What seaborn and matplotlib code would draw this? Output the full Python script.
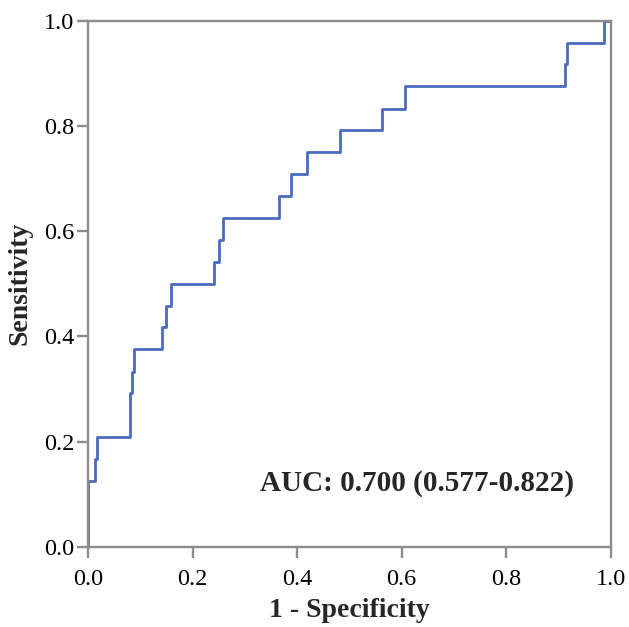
import numpy as np
import pandas as pd
import matplotlib
matplotlib.use('Agg')
import matplotlib.pyplot as plt
import seaborn as sns

# ROC curve corner points
fpr = [0, 0, 0.013, 0.013, 0.017, 0.017, 0.080, 0.080, 0.084, 0.084, 0.088, 0.088,
       0.141, 0.141, 0.150, 0.150, 0.158, 0.158, 0.241, 0.241, 0.251, 0.251, 0.259, 0.259,
       0.366, 0.366, 0.389, 0.389, 0.418, 0.418, 0.482, 0.482, 0.563, 0.563, 0.607, 0.607,
       0.913, 0.913, 0.917, 0.917, 0.987, 0.987, 1.0]
tpr = [0, 0.125, 0.125, 0.167, 0.167, 0.208, 0.208, 0.292, 0.292, 0.333, 0.333, 0.375,
       0.375, 0.417, 0.417, 0.458, 0.458, 0.5, 0.5, 0.542, 0.542, 0.583, 0.583, 0.625,
       0.625, 0.667, 0.667, 0.708, 0.708, 0.75, 0.75, 0.792, 0.792, 0.833, 0.833, 0.875,
       0.875, 0.917, 0.917, 0.958, 0.958, 1.0, 1.0]
auc_label = "AUC: 0.700 (0.577-0.822)"
ticks = [0.0, 0.2, 0.4, 0.6, 0.8, 1.0]

sns.set_style('white')
plt.rcParams['font.family'] = ['Liberation Serif', 'DejaVu Serif']

df = pd.DataFrame({'fpr': fpr, 'tpr': tpr})

fig = plt.figure(figsize=(6.29, 6.27), dpi=100)
ax = fig.add_axes([0.14, 0.128, 0.831, 0.839])
sns.lineplot(data=df, x='fpr', y='tpr', sort=False, estimator=None,
             color='#4a6bbf', linewidth=2.0, ax=ax)

ax.set_xlim(0, 1)
ax.set_ylim(0, 1)
ax.set_xticks(ticks)
ax.set_yticks(ticks)
ax.set_xticklabels([f'{t:.1f}' for t in ticks])
ax.set_yticklabels([f'{t:.1f}' for t in ticks])
for s in ax.spines.values():
    s.set_color('#8c8c8c')
    s.set_linewidth(1.7)
ax.tick_params(axis='both', which='major', direction='out', length=8, width=1.7,
               color='#8c8c8c', labelsize=17.5, labelcolor='black',
               bottom=True, left=True)
ax.tick_params(axis='x', pad=8)
ax.tick_params(axis='y', pad=2)

ax.set_xlabel('1 - Specificity', fontsize=20, fontweight='bold', labelpad=6)
ax.set_ylabel('Sensitivity', fontsize=20, fontweight='bold', labelpad=8)

ax.text(0.329, 0.121, auc_label, fontsize=21, fontweight='bold',
        va='center', ha='left', transform=ax.transData)

fig.savefig('out.png', dpi=100)
